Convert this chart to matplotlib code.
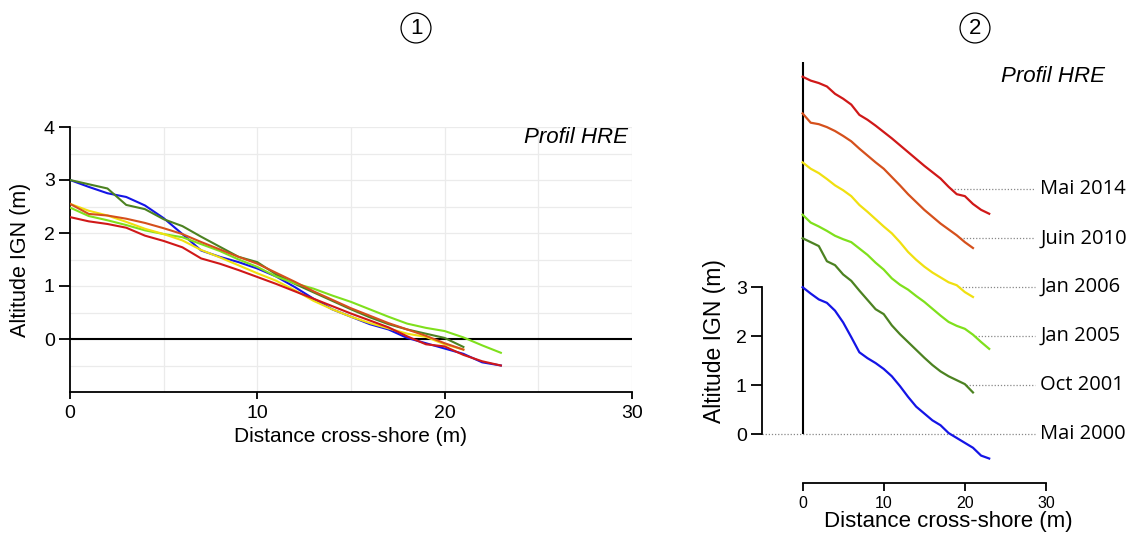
import numpy as np
import matplotlib
matplotlib.use("Agg")
import matplotlib.pyplot as plt

plt.rcParams['font.family'] = ['Liberation Sans', 'DejaVu Sans']

# ---- data ----
dates = ["Mai 2000", "Oct 2001", "Jan 2005", "Jan 2006", "Juin 2010", "Mai 2014"]
colors = ["#1414e6", "#4c8221", "#7fe01c", "#f0e010", "#d5501c", "#d01818"]
offsets = [0, 1, 2, 3, 4, 5]

mai2000 = [3.0, 2.87, 2.75, 2.68, 2.52, 2.28, 1.98, 1.67, 1.55, 1.45, 1.33, 1.18,
           0.98, 0.76, 0.56, 0.42, 0.28, 0.18, 0.02, -0.08, -0.18, -0.28, -0.44, -0.50]
oct2001 = [3.0, 2.92, 2.84, 2.53, 2.45, 2.26, 2.13, 1.93, 1.74, 1.55, 1.45, 1.22,
           1.04, 0.88, 0.72, 0.56, 0.41, 0.28, 0.18, 0.10, 0.02, -0.15]
jan2005 = [2.48, 2.32, 2.24, 2.15, 2.05, 1.98, 1.92, 1.79, 1.66, 1.50, 1.36, 1.18,
           1.05, 0.95, 0.82, 0.70, 0.56, 0.42, 0.29, 0.21, 0.15, 0.03, -0.12, -0.26]
jan2006 = [2.55, 2.42, 2.33, 2.21, 2.08, 1.98, 1.86, 1.68, 1.54, 1.39, 1.24, 1.10,
           0.92, 0.72, 0.56, 0.42, 0.30, 0.20, 0.10, 0.04, -0.10, -0.20]
juin2010 = [2.55, 2.36, 2.33, 2.27, 2.19, 2.09, 1.98, 1.83, 1.69, 1.55, 1.42, 1.25,
            1.08, 0.90, 0.74, 0.58, 0.44, 0.30, 0.18, 0.06, -0.08, -0.20]
mai2014 = [2.30, 2.22, 2.17, 2.10, 1.95, 1.85, 1.73, 1.52, 1.42, 1.30, 1.17, 1.04,
           0.90, 0.76, 0.62, 0.48, 0.35, 0.22, 0.05, -0.10, -0.14, -0.30, -0.42, -0.50]

profiles = [mai2000, oct2001, jan2005, jan2006, juin2010, mai2014]

fig = plt.figure(figsize=(11.32, 5.35), dpi=100)
W, H = 1132, 535

# ---- panel 1 ----
ax1 = fig.add_axes([70 / W, 1 - 392 / H, 562 / W, 265 / H])
ax1.set_xlim(0, 30)
ax1.set_ylim(-1, 4)
for yv in np.arange(-0.5, 4.01, 0.5):
    ax1.axhline(yv, color="#ebebeb", lw=0.9, zorder=0)
for xv in np.arange(5, 30.01, 5):
    ax1.axvline(xv, color="#ebebeb", lw=0.9, zorder=0)
ax1.axhline(0, color="black", lw=1.5, zorder=1)
for prof, col in zip(profiles, colors):
    x = np.arange(len(prof))
    ax1.plot(x, prof, color=col, lw=1.5, zorder=3)
for s in ["top", "right"]:
    ax1.spines[s].set_visible(False)
ax1.spines["left"].set_linewidth(1.3)
ax1.spines["bottom"].set_linewidth(1.3)
ax1.set_xticks([0, 10, 20, 30])
ax1.set_yticks([0, 1, 2, 3, 4])
ax1.tick_params(axis="x", labelsize=14, length=5, width=1.3, pad=4)
ax1.tick_params(axis="y", labelsize=14, length=8, width=1.3, pad=3)
ax1.set_xlabel("Distance cross-shore (m)", fontsize=15, labelpad=4)
ax1.set_ylabel("Altitude IGN (m)", fontsize=15.5, labelpad=9)
ax1.text(29.8, 3.8, "Profil HRE", style="italic", fontsize=16, ha="right", va="center")

# ---- panel 2 ----
ax2 = fig.add_axes([762 / W, 1 - 483 / H, 284 / W, 421 / H])
ax2.set_xlim(-5, 30)
ax2.set_ylim(-1, 7.6)
for s in ["top", "right"]:
    ax2.spines[s].set_visible(False)
ax2.spines["left"].set_bounds(0, 3)
ax2.spines["bottom"].set_bounds(0, 30)
ax2.spines["left"].set_linewidth(1.3)
ax2.spines["bottom"].set_linewidth(1.3)
ax2.set_xticks([0, 10, 20, 30])
ax2.set_yticks([0, 1, 2, 3])
ax2.tick_params(axis="x", labelsize=11.5, length=6, width=1.3, pad=3)
ax2.tick_params(axis="y", labelsize=14, length=8, width=1.3, pad=3)
ax2.set_xlabel("Distance cross-shore (m)", fontsize=16)
ax2.set_ylabel("Altitude IGN (m)", fontsize=16.5)
ax2.xaxis.set_label_coords((948 - 762) / 284, (483 - 511) / 421)
ax2.yaxis.set_label_coords((726 - 762) / 284, (483 - 341) / 421)
ax2.vlines(0, 0, 7.6, color="black", lw=1.5, zorder=2)

for i, (prof, col, off, lab) in enumerate(zip(profiles, colors, offsets, dates)):
    x = np.arange(len(prof))
    y = np.array(prof) + off
    ax2.plot(x, y, color=col, lw=1.6, zorder=3)
    p = np.array(prof)
    if i == 0:
        xs = -5
    else:
        k = int(np.argmax(p <= 0))
        xs = x[k - 1] + (p[k - 1]) / (p[k - 1] - p[k])
    ax2.plot([xs, 28.6], [off, off], color="#888888", lw=0.9, ls=(0, (1, 1.5)),
             zorder=1, clip_on=False)
    ax2.text(29.3, off, lab, fontsize=14.5, ha="left", va="center",
             family=["Open Sans", "DejaVu Sans"], clip_on=False)

fig.text(1105 / W, 1 - 77 / H, "Profil HRE", style="italic", fontsize=16,
         ha="right", va="center")

# circled numbers
for xp, t in [(416, "1"), (975, "2")]:
    fig.text(xp / W, 1 - 28 / H, t, fontsize=16, ha="center", va="center",
             bbox=dict(boxstyle="circle,pad=0.2", fc="white", ec="black", lw=0.9))

fig.savefig("out.png", dpi=100)
